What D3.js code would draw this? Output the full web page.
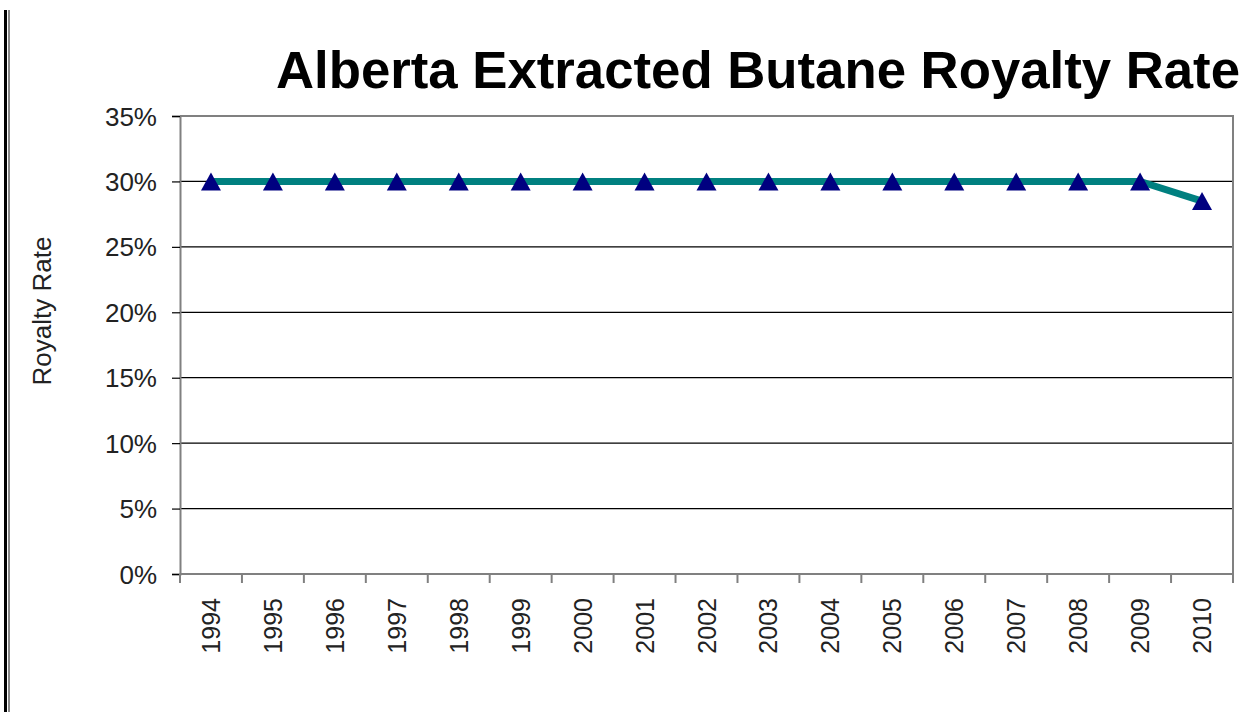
<!DOCTYPE html>
<html>
<head>
<meta charset="utf-8">
<script src="https://cdn.jsdelivr.net/npm/d3@7"></script>
<style>
  body { margin: 0; background: #fff; }
  svg { display: block; }
</style>
</head>
<body>
<div id="chart"></div>
<script>
const years = ["1994", "1995", "1996", "1997", "1998", "1999", "2000", "2001", "2002",
  "2003", "2004", "2005", "2006", "2007", "2008", "2009", "2010"];
const rates = [0.30, 0.30, 0.30, 0.30, 0.30, 0.30, 0.30, 0.30, 0.30,
  0.30, 0.30, 0.30, 0.30, 0.30, 0.30, 0.30, 0.285];
const yTicks = [0, 0.05, 0.10, 0.15, 0.20, 0.25, 0.30, 0.35];
const titleText = "Alberta Extracted Butane Royalty Rate";
const yLabel = "Royalty Rate";

const width = 1254;
const height = 712;
const plot = { left: 180, right: 1233, top: 116, bottom: 574 };
const font = "Liberation Sans, Arial, sans-serif";

const svg = d3.select("#chart").append("svg")
  .attr("width", width)
  .attr("height", height);

// left page border (double line)
svg.append("rect").attr("x", 4).attr("y", 10).attr("width", 3).attr("height", height - 10).attr("fill", "#000");
svg.append("rect").attr("x", 8).attr("y", 10).attr("width", 2).attr("height", height - 10).attr("fill", "#888");

const x = d3.scaleBand()
  .domain(years)
  .range([plot.left, plot.right]);

const y = d3.scaleLinear()
  .domain([0, 0.35])
  .range([plot.bottom, plot.top]);

// gridlines
svg.append("g")
  .selectAll("line")
  .data(yTicks.filter(d => d > 0 && d < 0.35))
  .join("line")
  .attr("x1", plot.left)
  .attr("x2", plot.right)
  .attr("y1", d => y(d))
  .attr("y2", d => y(d))
  .attr("stroke", "#000")
  .attr("stroke-width", 1.2);

// plot frame top/right
svg.append("path")
  .attr("d", `M${plot.left},${plot.top}H${plot.right}V${plot.bottom}`)
  .attr("fill", "none")
  .attr("stroke", "#808080")
  .attr("stroke-width", 2);

// y axis
const yAxis = svg.append("g")
  .attr("transform", `translate(${plot.left},0)`)
  .call(d3.axisLeft(y).tickValues(yTicks).tickFormat(d3.format(".0%")).tickSize(8).tickPadding(15));
yAxis.select(".domain").attr("stroke", "#808080").attr("stroke-width", 2);
yAxis.selectAll(".tick line").attr("stroke", "#000").attr("stroke-width", 1.2);
yAxis.selectAll(".tick text")
  .attr("font-family", font)
  .attr("font-size", 26)
  .attr("dy", "0.35em")
  .attr("fill", "#222");

// x axis: ticks at category boundaries
const xAxisG = svg.append("g").attr("transform", `translate(0,${plot.bottom})`);
xAxisG.append("line")
  .attr("x1", plot.left).attr("x2", plot.right)
  .attr("stroke", "#808080").attr("stroke-width", 2);
const boundaries = years.map(d => x(d)).concat([x(years[years.length - 1]) + x.bandwidth()]);
xAxisG.selectAll("line.tk")
  .data(boundaries)
  .join("line")
  .attr("class", "tk")
  .attr("x1", d => d).attr("x2", d => d)
  .attr("y1", 0).attr("y2", 9)
  .attr("stroke", "#808080").attr("stroke-width", 2);
xAxisG.selectAll("text")
  .data(years)
  .join("text")
  .attr("transform", d => `translate(${x(d) + x.bandwidth() / 2 + 9},24) rotate(-90)`)
  .attr("text-anchor", "end")
  .attr("font-family", font)
  .attr("font-size", 25)
  .attr("fill", "#222")
  .text(d => d);

// line
const cx = d => x(d) + x.bandwidth() / 2;
svg.append("path")
  .datum(years.map((d, i) => [cx(d), y(rates[i])]))
  .attr("d", d3.line())
  .attr("fill", "none")
  .attr("stroke", "#008080")
  .attr("stroke-width", 7);

// triangle markers
svg.append("g")
  .selectAll("path")
  .data(years)
  .join("path")
  .attr("transform", (d, i) => `translate(${cx(d)},${y(rates[i])})`)
  .attr("d", "M0,-9L10,9L-10,9Z")
  .attr("fill", "#000080");

// title
svg.append("text")
  .attr("x", 276)
  .attr("y", 88)
  .attr("textLength", 964)
  .attr("lengthAdjust", "spacingAndGlyphs")
  .attr("font-family", font)
  .attr("font-weight", "bold")
  .attr("font-size", 51)
  .attr("fill", "#000")
  .text(titleText);

// y label
svg.append("text")
  .attr("transform", `translate(51,311) rotate(-90)`)
  .attr("text-anchor", "middle")
  .attr("font-family", font)
  .attr("font-size", 26)
  .attr("fill", "#222")
  .text(yLabel);
</script>
</body>
</html>
